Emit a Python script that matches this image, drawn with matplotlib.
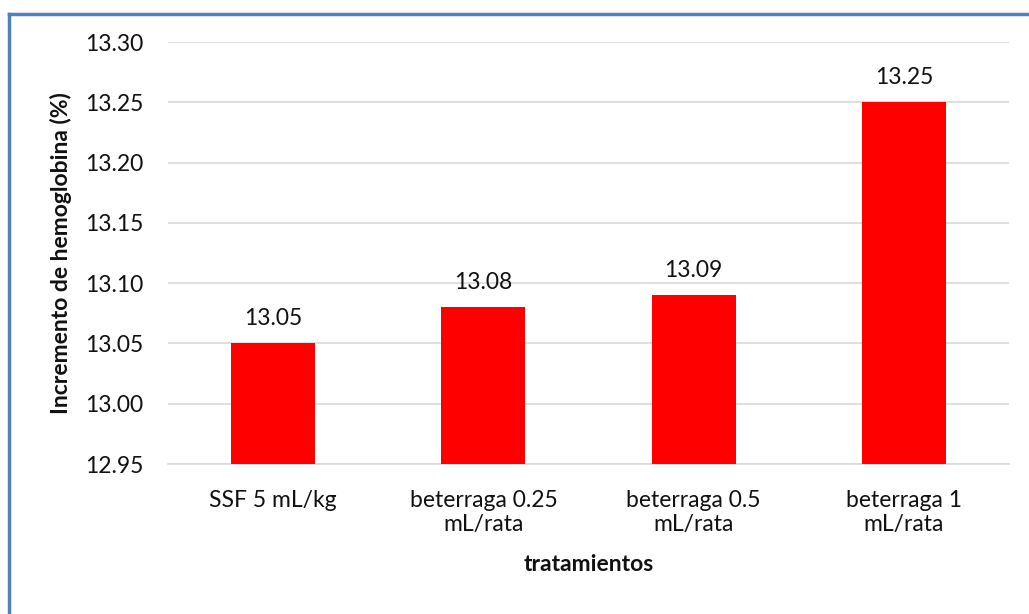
import numpy as np
import matplotlib.pyplot as plt
from matplotlib.lines import Line2D

# datos
categorias = ["SSF 5 mL/kg", "beterraga 0.25\nmL/rata", "beterraga 0.5\nmL/rata", "beterraga 1\nmL/rata"]
valores = [13.05, 13.08, 13.09, 13.25]
yticks = [12.95, 13.00, 13.05, 13.10, 13.15, 13.20, 13.25, 13.30]

plt.rcParams['font.family'] = ['Lato', 'DejaVu Sans']
fs = 16.5
txt = "#111111"

fig = plt.figure(figsize=(10.29, 6.14), dpi=100)
ax = fig.add_axes([168/1029, 1-464/614, (1009-168)/1029, (464-42)/614])

x = np.arange(len(categorias))
ax.bar(x, valores, width=0.4, color="#FF0000", zorder=3)
for xi, v in zip(x, valores):
    ax.annotate("%.2f" % v, (xi, v), xytext=(0, 13), textcoords="offset points",
                ha="center", va="baseline", fontsize=fs, color=txt)

ax.set_ylim(12.95, 13.30)
ax.set_xlim(-0.5, len(categorias) - 0.5)
ax.set_yticks(yticks)
ax.set_yticklabels(["%.2f" % t for t in yticks], fontsize=fs, color=txt)
ax.set_xticks(x)
ax.set_xticklabels(categorias, fontsize=fs, color=txt, linespacing=1.15)
ax.yaxis.grid(True, color="#D9D9D9", linewidth=1.2, zorder=0)
for s in ["top", "right", "left"]:
    ax.spines[s].set_visible(False)
ax.spines["bottom"].set_color("#D9D9D9")
ax.spines["bottom"].set_linewidth(1.2)
ax.tick_params(axis="x", length=0, pad=19)
ax.tick_params(axis="y", length=0, pad=18)

ax.set_ylabel("Incremento de hemoglobina (%)", fontsize=fs, fontweight="bold", color=txt, labelpad=9)
ax.set_xlabel("tratamientos", fontsize=fs, fontweight="bold", color=txt, labelpad=14)

# borde azul del recuadro
fig.add_artist(Line2D([9/1029, 1], [1-13.5/614, 1-13.5/614], color="#4F81BD", linewidth=2.5, transform=fig.transFigure))
fig.add_artist(Line2D([9/1029, 9/1029], [0, 1-13.5/614], color="#4F81BD", linewidth=2.5, transform=fig.transFigure))

fig.savefig("out.png", dpi=100)
